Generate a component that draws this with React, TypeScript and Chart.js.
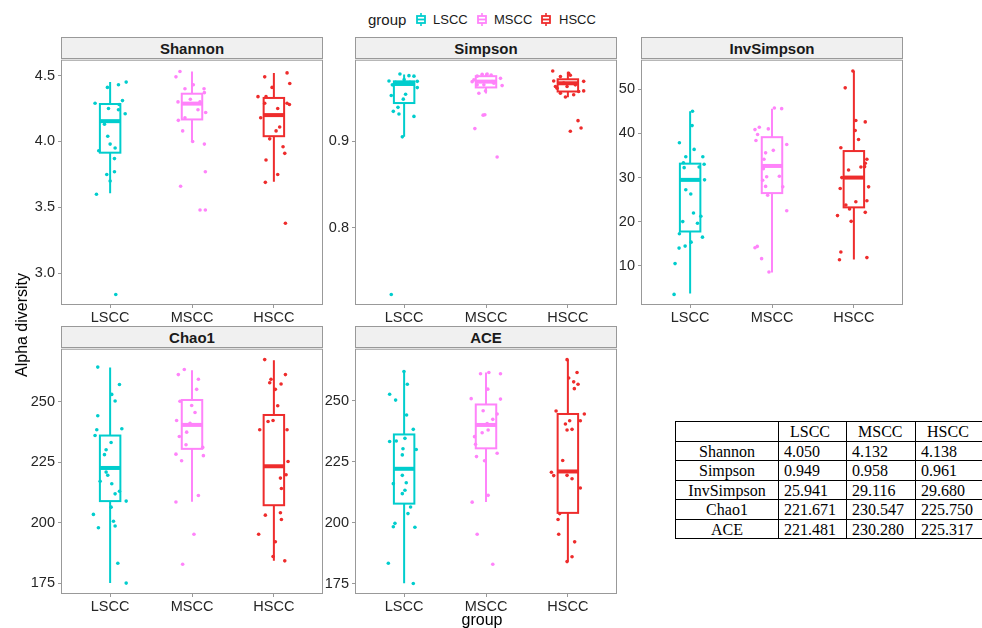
import React, { useEffect, useRef } from "react";
import { Chart, registerables } from "chart.js";
Chart.register(...registerables);

// ---------------- data ----------------
const categories = ["LSCC", "MSCC", "HSCC"];
const groupColors = ["#00CDCD", "#FF83FA", "#EE2C2C"];

// box stats per group: [lowerWhisker, q1, median, q3, upperWhisker]
const shannonBoxes = [
  [3.607, 3.915, 4.154, 4.284, 4.45],
  [3.998, 4.167, 4.287, 4.362, 4.53],
  [3.695, 4.04, 4.2, 4.33, 4.52],
];
const simpsonBoxes = [
  [0.905, 0.944, 0.966, 0.969, 0.977],
  [0.955, 0.962, 0.9687, 0.975, 0.978],
  [0.9507, 0.9573, 0.9668, 0.9714, 0.98],
];
const invSimpsonBoxes = [
  [3.78, 17.8, 29.48, 33.15, 44.98],
  [8.52, 26.49, 32.63, 39.14, 45.6],
  [11.44, 23.26, 30.0, 36.0, 54.13],
];
const chao1Boxes = [
  [175, 208.9, 222.6, 236.0, 264.1],
  [208.6, 230.5, 240.4, 250.7, 263.0],
  [184.2, 207.2, 223.3, 244.5, 267.1],
];
const aceBoxes = [
  [175.1, 207.8, 222.1, 236.2, 262.1],
  [208.5, 230.5, 240.1, 248.5, 261.6],
  [184.0, 204.0, 221.0, 244.6, 267.0],
];

// jittered samples: [horizontal jitter in category units, value]
const shannonLSCC = [[0.196,4.45],[0.102,4.43],[-0.033,4.41],[0.151,4.31],[-0.184,4.29],[0.110,4.28],[-0.020,4.25],[0.102,4.24],[0.184,4.21],[-0.069,4.13],[-0.029,4.04],[0,3.98],[0.061,3.95],[-0.139,3.93],[0.053,3.87],[0.053,3.77],[-0.041,3.75],[0,3.70],[-0.167,3.60],[0.069,2.84]];
const shannonMSCC = [[-0.147,4.53],[-0.196,4.49],[0.016,4.43],[-0.086,4.40],[0.147,4.40],[0.151,4.37],[-0.171,4.30],[-0.020,4.32],[0.098,4.30],[0.073,4.24],[0.167,4.22],[-0.086,4.18],[-0.167,4.16],[-0.114,4.08],[0.008,4.00],[0.151,3.98],[0.163,3.77],[-0.139,3.66],[0.098,3.48],[0.163,3.48]];
const shannonHSCC = [[-0.112,4.49],[0.161,4.52],[0.194,4.44],[-0.022,4.41],[-0.194,4.34],[-0.096,4.34],[-0.112,4.29],[0.161,4.29],[0.190,4.28],[0.047,4.25],[-0.161,4.18],[0.027,4.08],[0.071,4.11],[-0.051,4.02],[0.112,3.96],[0.133,3.91],[-0.096,3.86],[0.047,3.75],[-0.104,3.69],[0.141,3.38]];

const simpsonLSCC = [[-0.051,0.9775],[0.059,0.9756],[0.120,0.975],[-0.185,0.9695],[-0.104,0.968],[0,0.971],[0.071,0.968],[0.161,0.969],[0.161,0.9618],[-0.144,0.965],[0.10,0.966],[0.018,0.9542],[-0.157,0.9527],[-0.010,0.9485],[-0.075,0.939],[-0.132,0.9344],[-0.063,0.9313],[0.120,0.9286],[-0.022,0.905],[-0.157,0.7232]];
const simpsonMSCC = [[-0.108,0.975],[-0.047,0.9771],[0.014,0.9775],[0.063,0.9764],[0.177,0.9725],[-0.169,0.9687],[-0.108,0.965],[-0.026,0.965],[0.096,0.9668],[0.197,0.9641],[-0.087,0.9553],[-0.006,0.958],[0.075,0.9687],[-0.148,0.9707],[-0.014,0.9305],[-0.035,0.930],[-0.136,0.9145],[0.136,0.8817]];
const simpsonHSCC = [[-0.185,0.981],[-0.091,0.9745],[0.010,0.9782],[0.030,0.976],[-0.173,0.9695],[-0.051,0.967],[0.091,0.965],[0.193,0.969],[-0.132,0.961],[-0.010,0.963],[0.132,0.9573],[0.193,0.958],[-0.030,0.951],[0.071,0.9535],[-0.152,0.963],[-0.091,0.9553],[0.124,0.9237],[0.161,0.9152],[0.030,0.9115]];

const invSimpsonLSCC = [[0.029,45.0],[0.024,41.76],[-0.131,37.87],[0.049,36.38],[-0.053,34.72],[0.155,34.72],[-0.082,33.37],[0.171,33.0],[0.110,32.4],[-0.073,32.25],[0.176,29.48],[-0.053,27.24],[0.008,26.27],[0.041,22.0],[0.131,21.24],[-0.090,20.04],[0.090,19.66],[-0.131,17.28],[0.151,16.52],[0.012,15.39],[-0.061,14.5],[-0.135,14.04],[-0.184,10.54],[-0.196,3.57]];
const invSimpsonMSCC = [[0.029,45.73],[0.118,45.6],[-0.155,41.39],[-0.045,41.01],[-0.208,40.86],[-0.176,39.75],[-0.196,38.4],[0.180,37.5],[0.016,36.16],[-0.078,35.6],[-0.098,34.13],[-0.106,32.0],[-0.065,30.2],[0.090,30.3],[-0.114,29.4],[0.131,27.9],[-0.078,28.0],[-0.053,26.0],[0.180,22.5],[-0.180,14.43],[-0.208,14.13],[-0.127,11.66],[-0.037,8.65]];
const invSimpsonHSCC = [[-0.012,54.1],[-0.106,50.3],[0.024,42.9],[0.139,42.6],[0.016,40.65],[0.057,38.63],[-0.159,36.74],[0.159,34.13],[0.139,33.24],[0.131,32.47],[0.086,32.4],[-0.065,31.73],[-0.147,30.0],[-0.167,27.53],[0.180,27.9],[0.159,24.76],[0.024,24.54],[-0.098,23.8],[-0.053,22.9],[0.139,22.13],[-0.200,21.4],[-0.033,20.1],[-0.159,13.15],[-0.176,11.4],[0.159,11.89]];

const chao1LSCC = [[-0.151,264.3],[0.114,257.1],[0.020,253.0],[0.061,250.3],[-0.151,244.2],[-0.163,238.4],[0.143,238.8],[-0.184,236.0],[0.012,233.1],[-0.049,230.1],[-0.069,228.1],[-0.049,220.9],[-0.029,219.6],[-0.122,217.1],[0.020,216.1],[0.061,211.9],[0.114,213.0],[0.196,208.9],[0.012,206.4],[-0.204,203.4],[0.041,200.6],[0.061,198.6],[-0.143,197.9],[0.094,183.2],[0.196,175.0]];
const chao1MSCC = [[-0.094,263.3],[-0.167,261.2],[0.078,259.3],[0.057,255.1],[-0.147,250.2],[-0.004,248.4],[0.037,245.5],[-0.188,242.2],[-0.024,241.1],[-0.065,237.4],[-0.155,235.6],[-0.073,232.2],[0.131,231.1],[-0.196,228.3],[0.139,227.7],[-0.127,225.6],[0.078,211.2],[-0.196,208.5],[0.024,195.2],[-0.114,182.8]];
const chao1HSCC = [[-0.112,267.4],[0.141,261.2],[-0.035,259.3],[-0.051,257.8],[0.088,257.3],[0.018,255.1],[0.047,248.3],[-0.010,242.2],[-0.071,241.8],[-0.173,238.4],[0.161,238.4],[0.173,225.3],[0.149,219.8],[0.080,218.4],[0.092,214.1],[0.080,204.1],[-0.104,203.1],[0.092,201.3],[-0.186,195.2],[0.018,192.1],[-0.010,186.0],[0.133,184.2]];

const aceLSCC = [[-0.002,262.0],[0.039,256.8],[-0.177,252.7],[-0.104,250.3],[0.030,244.2],[0.112,238.3],[0.010,234.6],[-0.177,233.3],[-0.096,233.5],[-0.014,230.3],[0.148,230.0],[-0.022,227.8],[-0.022,219.4],[-0.132,216.0],[0.026,216.4],[0.010,213.3],[-0.022,211.9],[0.079,206.4],[0.047,203.7],[-0.112,199.7],[-0.132,198.3],[0.132,198.1],[-0.193,183.3],[0.112,175.0]];
const aceMSCC = [[-0.067,261.1],[0.035,261.6],[0.177,261.1],[0.022,254.8],[-0.181,250.9],[0.177,250.7],[-0.035,245.9],[0.136,244.6],[0.083,242.4],[0.014,240.7],[0.026,238.0],[-0.047,236.9],[-0.140,235.3],[-0.128,232.2],[0.136,228.5],[-0.116,227.1],[-0.018,225.4],[0.026,211.2],[-0.169,208.4],[-0.108,195.2],[0.083,182.9]];
const aceHSCC = [[-0.010,266.9],[0.112,261.6],[0.010,259.4],[0.071,257.8],[0.124,256.8],[0.079,255.0],[-0.144,245.8],[0.201,244.6],[0.152,241.8],[0.022,241.8],[-0.030,240.5],[0.051,238.3],[-0.010,238.0],[-0.063,225.5],[-0.201,220.7],[-0.173,219.3],[-0.010,219.4],[0.051,218.0],[0.152,214.2],[-0.100,203.7],[-0.120,201.3],[-0.112,195.2],[0.083,192.1],[0.051,186.0],[-0.010,184.0]];

// y axis tick labels
const shannonTicks = [3.0, 3.5, 4.0, 4.5];
const simpsonTicks = [0.8, 0.9];
const invSimpsonTicks = [10, 20, 30, 40, 50];
const chao1Ticks = [175, 200, 225, 250];
const aceTicks = [175, 200, 225, 250];

// summary table
const tableRows = ["Shannon", "Simpson", "InvSimpson", "Chao1", "ACE"];
const tableLSCC = ["4.050", "0.949", "25.941", "221.671", "221.481"];
const tableMSCC = ["4.132", "0.958", "29.116", "230.547", "230.280"];
const tableHSCC = ["4.138", "0.961", "29.680", "225.750", "225.317"];

// ---------------- layout ----------------
const SANS = '"Liberation Sans", Arial, Helvetica, sans-serif';
const SERIF = '"Liberation Serif", "Times New Roman", serif';
const PLOT_W = 262;
const PLOT_H = 247;
const AX_W = 50;
const XAX_H = 28;
const PAD = 10;
const STRIP_H = 21;
const BOX_HW = 0.125;
const FRAME = "#999999";

const panels = [
  { name: "Shannon", boxes: shannonBoxes, points: [shannonLSCC, shannonMSCC, shannonHSCC], yMin: 2.76, yMax: 4.62, ticks: shannonTicks, dec: 1, left: 61, top: 58 },
  { name: "Simpson", boxes: simpsonBoxes, points: [simpsonLSCC, simpsonMSCC, simpsonHSCC], yMin: 0.711, yMax: 0.994, ticks: simpsonTicks, dec: 1, left: 355, top: 58 },
  { name: "InvSimpson", boxes: invSimpsonBoxes, points: [invSimpsonLSCC, invSimpsonMSCC, invSimpsonHSCC], yMin: 1.17, yMax: 56.67, ticks: invSimpsonTicks, dec: 0, left: 641, top: 58 },
  { name: "Chao1", boxes: chao1Boxes, points: [chao1LSCC, chao1MSCC, chao1HSCC], yMin: 170.5, yMax: 271.9, ticks: chao1Ticks, dec: 0, left: 61, top: 347 },
  { name: "ACE", boxes: aceBoxes, points: [aceLSCC, aceMSCC, aceHSCC], yMin: 170.7, yMax: 271.4, ticks: aceTicks, dec: 0, left: 355, top: 347 },
];

function Panel({ cfg }: { cfg: any }) {
  const ref = useRef<HTMLCanvasElement>(null);
  useEffect(() => {
    if (!ref.current) return;
    const boxPlugin = {
      id: "boxes",
      beforeDatasetsDraw(chart: any) {
        const { ctx } = chart;
        const x = chart.scales.x;
        const y = chart.scales.y;
        ctx.save();
        cfg.boxes.forEach((b: number[], i: number) => {
          const c = i + 1;
          const xl = x.getPixelForValue(c - BOX_HW);
          const xr = x.getPixelForValue(c + BOX_HW);
          const xc = x.getPixelForValue(c);
          const [lo, q1, med, q3, hi] = b.map((v) => y.getPixelForValue(v));
          ctx.strokeStyle = groupColors[i];
          ctx.lineWidth = 2;
          ctx.beginPath();
          ctx.moveTo(xc, q3);
          ctx.lineTo(xc, hi);
          ctx.moveTo(xc, q1);
          ctx.lineTo(xc, lo);
          ctx.stroke();
          ctx.strokeRect(xl, q3, xr - xl, q1 - q3);
          ctx.lineWidth = 4;
          ctx.beginPath();
          ctx.moveTo(xl, med);
          ctx.lineTo(xr, med);
          ctx.stroke();
        });
        ctx.restore();
      },
      afterDraw(chart: any) {
        const { ctx, chartArea } = chart;
        ctx.save();
        ctx.strokeStyle = FRAME;
        ctx.lineWidth = 1;
        ctx.strokeRect(chartArea.left + 0.5, chartArea.top + 0.5, chartArea.right - chartArea.left - 1, chartArea.bottom - chartArea.top - 1);
        ctx.restore();
      },
    };
    const tickFont = { family: SANS, size: 14.5 };
    const chart = new Chart(ref.current, {
      type: "scatter",
      data: {
        datasets: cfg.points.map((pts: number[][], i: number) => ({
          label: categories[i],
          data: pts.map(([dx, v]) => ({ x: i + 1 + dx, y: v })),
          backgroundColor: groupColors[i],
          borderWidth: 0,
          pointRadius: 1.8,
          pointHoverRadius: 1.8,
        })),
      },
      options: {
        animation: false,
        responsive: false,
        events: [],
        layout: { padding: { top: PAD, right: PAD, left: 0, bottom: 0 } },
        plugins: { legend: { display: false }, tooltip: { enabled: false } },
        scales: {
          x: {
            type: "linear",
            min: 0.4,
            max: 3.6,
            afterBuildTicks: (s: any) => {
              s.ticks = categories.map((_, i) => ({ value: i + 1 }));
            },
            afterFit: (s: any) => {
              s.height = XAX_H;
            },
            ticks: {
              callback: (v: any) => categories[Math.round(Number(v)) - 1],
              font: tickFont,
              color: "#262626",
              padding: 1,
              maxRotation: 0,
              autoSkip: false,
            },
            grid: { display: true, drawOnChartArea: false, drawTicks: true, tickLength: 3, color: FRAME },
            border: { display: false },
          },
          y: {
            type: "linear",
            min: cfg.yMin,
            max: cfg.yMax,
            afterBuildTicks: (s: any) => {
              s.ticks = cfg.ticks.map((v: number) => ({ value: v }));
            },
            afterFit: (s: any) => {
              s.width = AX_W;
            },
            ticks: {
              callback: (v: any) => Number(v).toFixed(cfg.dec),
              font: tickFont,
              color: "#262626",
              padding: 3,
              autoSkip: false,
            },
            grid: { display: true, drawOnChartArea: false, drawTicks: true, tickLength: 3, color: FRAME },
            border: { display: false },
          },
        },
      },
      plugins: [boxPlugin],
    } as any);
    return () => chart.destroy();
  }, [cfg]);

  return (
    <>
      <div
        style={{
          position: "absolute",
          left: cfg.left,
          top: cfg.top - STRIP_H,
          width: PLOT_W,
          height: STRIP_H + 1,
          boxSizing: "border-box",
          border: `1px solid ${FRAME}`,
          background: "#F0F0F0",
          font: `bold 15px ${SANS}`,
          color: "#1a1a1a",
          textAlign: "center",
          lineHeight: `${STRIP_H}px`,
        }}
      >
        {cfg.name}
      </div>
      <canvas
        ref={ref}
        width={AX_W + PLOT_W + PAD}
        height={PAD + PLOT_H + XAX_H}
        style={{
          position: "absolute",
          left: cfg.left - AX_W,
          top: cfg.top - PAD,
          width: AX_W + PLOT_W + PAD,
          height: PAD + PLOT_H + XAX_H,
        }}
      />
    </>
  );
}

function LegendKey({ color }: { color: string }) {
  return (
    <svg width="10" height="13" viewBox="0 0 10 13" style={{ display: "block" }}>
      <line x1="5" y1="0" x2="5" y2="13" stroke={color} strokeWidth="1.6" />
      <rect x="1" y="3" width="8" height="7" fill="#ffffff" stroke={color} strokeWidth="1.8" />
      <line x1="1" y1="6.5" x2="9" y2="6.5" stroke={color} strokeWidth="1.8" />
    </svg>
  );
}

const legendKeyX = [416, 477, 541];
const legendLabelX = [433, 494, 559];

export default function App() {
  const cellBase: React.CSSProperties = {
    border: "1px solid #000",
    padding: 0,
    height: 17.5,
    lineHeight: "17px",
    paddingTop: 1,
    whiteSpace: "nowrap",
    overflow: "hidden",
  };
  return (
    <div style={{ position: "fixed", left: 0, top: 0, width: 982, height: 628, background: "#fff", overflow: "hidden" }}>
      {/* legend */}
      <div style={{ position: "absolute", left: 368, top: 11, font: `15px ${SANS}`, color: "#1a1a1a", lineHeight: "17px" }}>group</div>
      {categories.map((c, i) => (
        <React.Fragment key={c}>
          <div style={{ position: "absolute", left: legendKeyX[i], top: 12.5 }}>
            <LegendKey color={groupColors[i]} />
          </div>
          <div style={{ position: "absolute", left: legendLabelX[i], top: 11.5, font: `13px ${SANS}`, color: "#1a1a1a", lineHeight: "15px" }}>{c}</div>
        </React.Fragment>
      ))}

      {panels.map((p) => (
        <Panel key={p.name} cfg={p} />
      ))}

      {/* axis titles */}
      <div
        style={{
          position: "absolute",
          left: 22,
          top: 325,
          transform: "translate(-50%, -50%) rotate(-90deg)",
          font: `16px ${SANS}`,
          color: "#000",
          whiteSpace: "nowrap",
        }}
      >
        Alpha diversity
      </div>
      <div style={{ position: "absolute", left: 482, top: 611, transform: "translateX(-50%)", font: `16px ${SANS}`, color: "#000", lineHeight: "18px" }}>group</div>

      {/* summary table */}
      <table
        style={{
          position: "absolute",
          left: 675,
          top: 421,
          borderCollapse: "collapse",
          tableLayout: "fixed",
          width: 307,
          font: `16px ${SERIF}`,
          color: "#000",
        }}
      >
        <colgroup>
          <col style={{ width: 103 }} />
          <col style={{ width: 68 }} />
          <col style={{ width: 69 }} />
          <col style={{ width: 67 }} />
        </colgroup>
        <tbody>
          <tr>
            <td style={cellBase}></td>
            {categories.map((c) => (
              <td key={c} style={{ ...cellBase, paddingLeft: 11 }}>{c}</td>
            ))}
          </tr>
          {tableRows.map((r, i) => (
            <tr key={r}>
              <td style={{ ...cellBase, textAlign: "center" }}>{r}</td>
              <td style={{ ...cellBase, paddingLeft: 5 }}>{tableLSCC[i]}</td>
              <td style={{ ...cellBase, paddingLeft: 5 }}>{tableMSCC[i]}</td>
              <td style={{ ...cellBase, paddingLeft: 5 }}>{tableHSCC[i]}</td>
            </tr>
          ))}
        </tbody>
      </table>
    </div>
  );
}
